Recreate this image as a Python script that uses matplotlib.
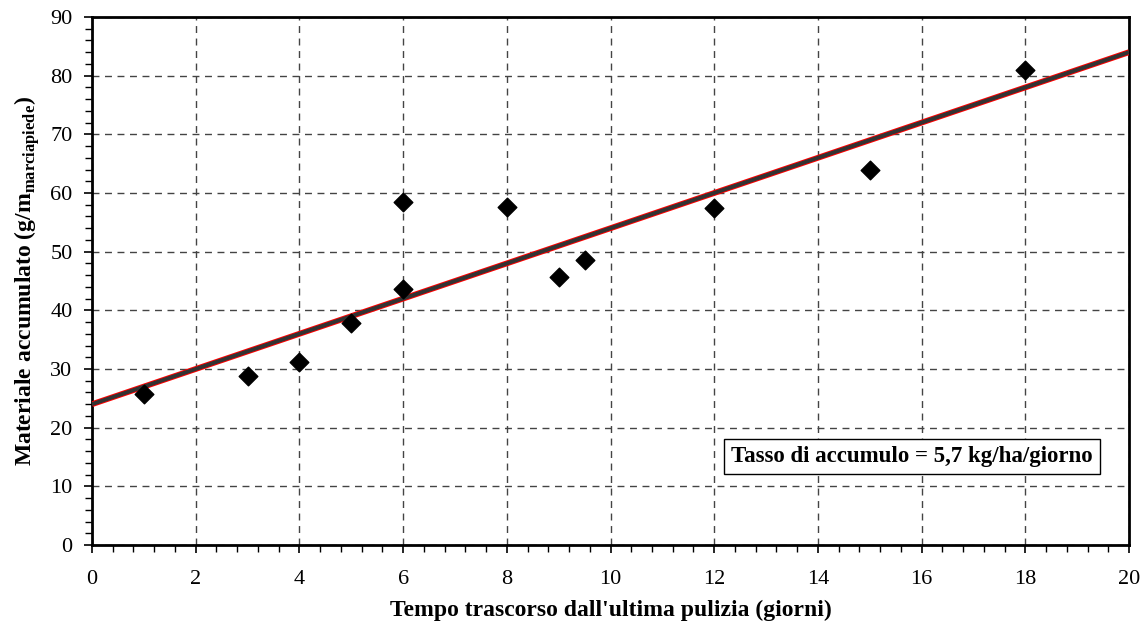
import numpy as np
import matplotlib.pyplot as plt
from matplotlib.ticker import MultipleLocator

plt.rcParams['font.family'] = 'Liberation Serif'
plt.rcParams['mathtext.fontset'] = 'custom'
plt.rcParams['mathtext.rm'] = 'Liberation Serif:bold'

# giorni dall'ultima pulizia e materiale accumulato
giorni = [1, 3, 4, 5, 6, 6, 8, 9, 9.5, 12, 15, 18]
materiale = [25.8, 28.8, 31.2, 37.8, 43.6, 58.4, 57.6, 45.7, 48.6, 57.5, 64.0, 80.9]

# retta di regressione
intercetta = 24.0
pendenza = 3.0
x_retta = np.array([0, 20])
y_retta = intercetta + pendenza * x_retta

fig = plt.figure(figsize=(11.42, 6.25), dpi=100)
ax = fig.add_axes([92/1142, 80/625, 1037/1142, 528/625])

ax.grid(True, which='major', linestyle=(0, (5, 4)), color='#444444', linewidth=1)
ax.plot(x_retta, y_retta, color='red', linewidth=4.2, solid_capstyle='butt', zorder=3)
ax.plot(x_retta, y_retta, color='#333333', linewidth=2.8, solid_capstyle='butt', zorder=4)
ax.scatter(giorni, materiale, marker='D', s=90, color='black', zorder=5)

ax.set_xlim(0, 20)
ax.set_ylim(0, 90)
ax.xaxis.set_major_locator(MultipleLocator(2))
ax.xaxis.set_minor_locator(MultipleLocator(0.4))
ax.yaxis.set_major_locator(MultipleLocator(10))
ax.yaxis.set_minor_locator(MultipleLocator(2))
ax.tick_params(which='major', direction='out', length=6, width=1.2, labelsize=16)
ax.tick_params(axis='x', which='major', pad=12)
ax.tick_params(axis='y', which='major', pad=8)
ax.tick_params(which='minor', direction='out', length=5, width=1)
for s in ax.spines.values():
    s.set_linewidth(2)

ax.set_xlabel("Tempo trascorso dall'ultima pulizia (giorni)", fontsize=17, fontweight='bold', labelpad=8)
ax.set_ylabel(r'Materiale accumulato (g/m$_{\mathrm{marciapiede}}$)', fontsize=17, fontweight='bold', labelpad=6)

ax.text(0.965, 0.167, 'Tasso di accumulo = 5,7 kg/ha/giorno', transform=ax.transAxes,
        ha='right', va='center', fontsize=16.5, fontweight='bold', zorder=6,
        bbox=dict(boxstyle='square,pad=0.3', facecolor='white', edgecolor='black', linewidth=1))

fig.savefig('out.png', dpi=100)
